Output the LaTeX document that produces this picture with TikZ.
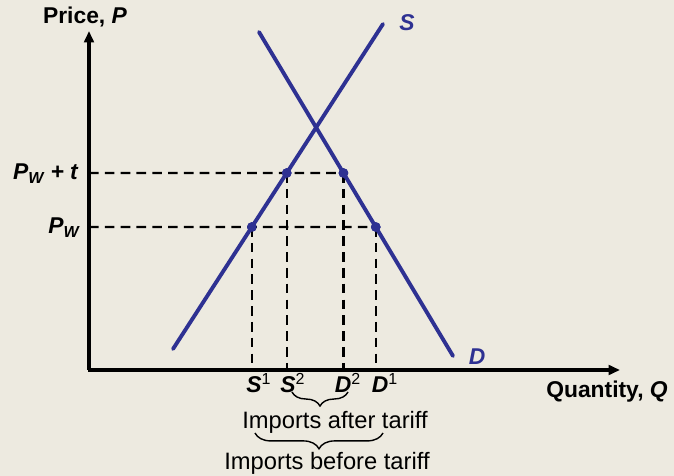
\documentclass[tikz,border=0pt]{standalone}
\usepackage{fontspec}
\setmainfont{Liberation Sans}
\usetikzlibrary{arrows.meta, positioning, calc, decorations.pathreplacing}
\definecolor{bgbeige}{RGB}{237,234,224}
\definecolor{curveblue}{RGB}{46,49,146}

\begin{document}
\begin{tikzpicture}[
  x=0.02cm, y=-0.02cm,
  axis/.style={line width=2pt, -{Triangle[length=6.5pt,width=5.5pt]}},
  curve/.style={line width=2.2pt, draw=curveblue, line cap=round},
  guide/.style={line width=1.3pt, dash pattern=on 5.5pt off 3.5pt},
  dot/.style={circle, fill=curveblue, inner sep=0pt, minimum size=5.5pt},
  lbl/.style={font=\fontsize{13}{15}\selectfont\bfseries, inner sep=0pt},
  txt/.style={font=\fontsize{13.5}{15}\selectfont, inner sep=0pt},
  brace/.style={decorate, line width=0.8pt,
                decoration={brace, mirror, amplitude=#1}}
]
  \fill[bgbeige] (0,0) rectangle (674,476);
  \useasboundingbox (0,0) rectangle (674,476);

  % axes and curves
  \coordinate (O)    at (89,370);
  \coordinate (ytop) at (89,31);
  \coordinate (xend) at (620,370);
  \coordinate (s0)   at (173,349);
  \coordinate (s1)   at (383,24);
  \coordinate (d0)   at (259,32);
  \coordinate (d1)   at (453,356);
  \coordinate (pwt)  at (89,173);
  \coordinate (pwtr) at (600,173);
  \coordinate (pw)   at (89,227);
  \coordinate (pwr)  at (600,227);

  \node[dot] (sa) at (intersection of s0--s1 and pwt--pwtr) {};
  \node[dot] (da) at (intersection of d0--d1 and pwt--pwtr) {};
  \node[dot] (sb) at (intersection of s0--s1 and pw--pwr) {};
  \node[dot] (db) at (intersection of d0--d1 and pw--pwr) {};

  \coordinate (fsa) at (sa |- O);
  \coordinate (fda) at (da |- O);
  \coordinate (fsb) at (sb |- O);
  \coordinate (fdb) at (db |- O);

  \draw[guide] (pwt) -- (da.center);
  \draw[guide] (pw)  -- (db.center);
  \draw[guide] (sa.center) -- (fsa);
  \draw[guide] (da.center) -- (fda);
  \draw[guide] (sb.center) -- (fsb);
  \draw[guide] (db.center) -- (fdb);

  \draw[axis] (O) -- (ytop);
  \draw[axis] ($(O)+(-1,0)$) -- (xend);

  \draw[curve] (s0) -- (s1);
  \draw[curve] (d0) -- (d1);
  \foreach \p in {sa,da,sb,db} \node[dot] at (\p) {};

  % labels
  \node[lbl] (plabel) at (85,17) {Price, \textit{P}};
  \node[lbl] (qlabel) at (607,392) {Quantity, \textit{Q}};
  \node[lbl, anchor=east] (pwtlabel) at (79,174) {\textit{P\textsubscript{W} + t}};
  \node[lbl, anchor=east] (pwlabel)  at (80,228) {\textit{P\textsubscript{W}}};
  \node[lbl, text=curveblue] (slabel) at (407,23) {\textit{S}};
  \node[lbl, text=curveblue] (dlabel) at (477,357) {\textit{D}};

  \node[lbl] (s1lbl) at (259,383) {\textit{S}\textsuperscript{\mdseries 1}};
  \node[lbl] (s2lbl) at (293,383) {\textit{S}\textsuperscript{\mdseries 2}};
  \node[lbl] (d2lbl) at (348,383) {\textit{D}\textsuperscript{\mdseries 2}};
  \node[lbl] (d1lbl) at (385,383) {\textit{D}\textsuperscript{\mdseries 1}};

  \draw[brace=8pt] (292,392) -- (348,392);
  \node[txt] (after) at (335,422) {Imports after tariff};
  \draw[brace=9pt] (255,433) -- (383,433);
  \node[txt] (before) at (327,463) {Imports before tariff};
\end{tikzpicture}
\end{document}
